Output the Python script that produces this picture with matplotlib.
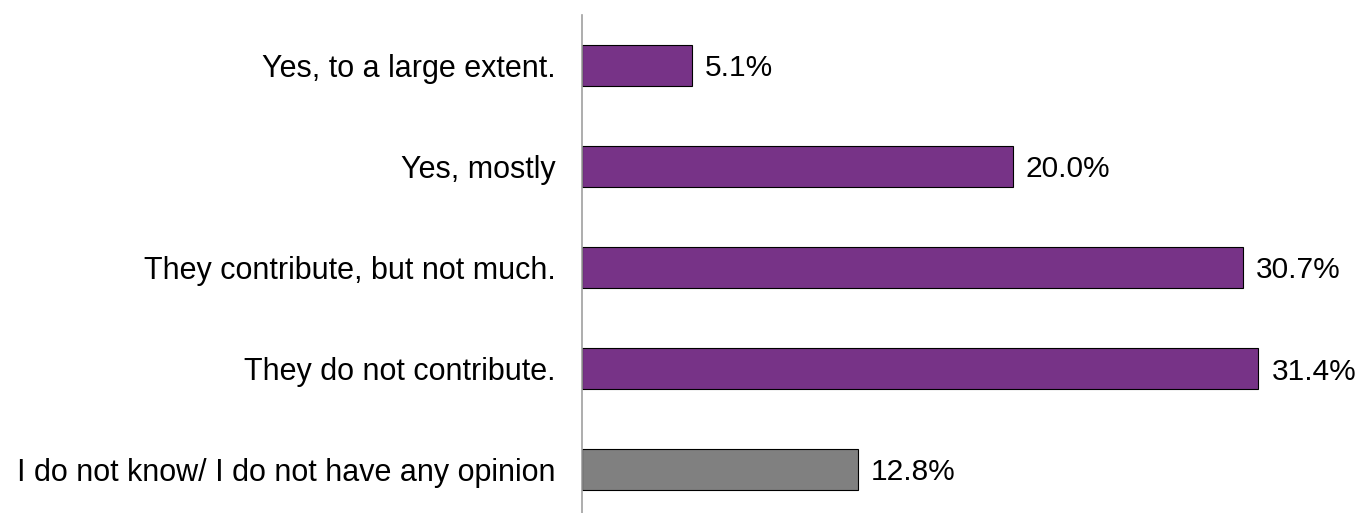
import matplotlib.pyplot as plt

categories = ["Yes, to a large extent.", "Yes, mostly", "They contribute, but not much.",
              "They do not contribute.", "I do not know/ I do not have any opinion"]
values = [5.1, 20.0, 30.7, 31.4, 12.8]
colors = ["#773387", "#773387", "#773387", "#773387", "#808080"]

plt.rcParams['font.family'] = ['Liberation Sans', 'DejaVu Sans']

fig = plt.figure(figsize=(13.6, 5.13), dpi=100)
ax = fig.add_axes([582/1360, -7/513, 754/1360, 505/513])
y = list(range(len(categories)))
ax.barh(y, values, height=0.41, color=colors, edgecolor="black", linewidth=0.8)
ax.set_ylim(4.5, -0.5)
ax.set_xlim(0, 35)
ax.set_yticks(y)
ax.set_yticklabels(categories, fontsize=22, va="center_baseline")
ax.tick_params(axis='y', length=0, pad=19)
ax.set_xticks([])
for s in ["top", "right", "bottom"]:
    ax.spines[s].set_visible(False)
ax.spines["left"].set_color("#a0a0a0")
ax.spines["left"].set_linewidth(1.2)
for yi, v in zip(y, values):
    ax.text(v + 0.6, yi, f"{v:.1f}%", va="center_baseline", ha="left", fontsize=21.5)
fig.savefig("out.png", dpi=100)
